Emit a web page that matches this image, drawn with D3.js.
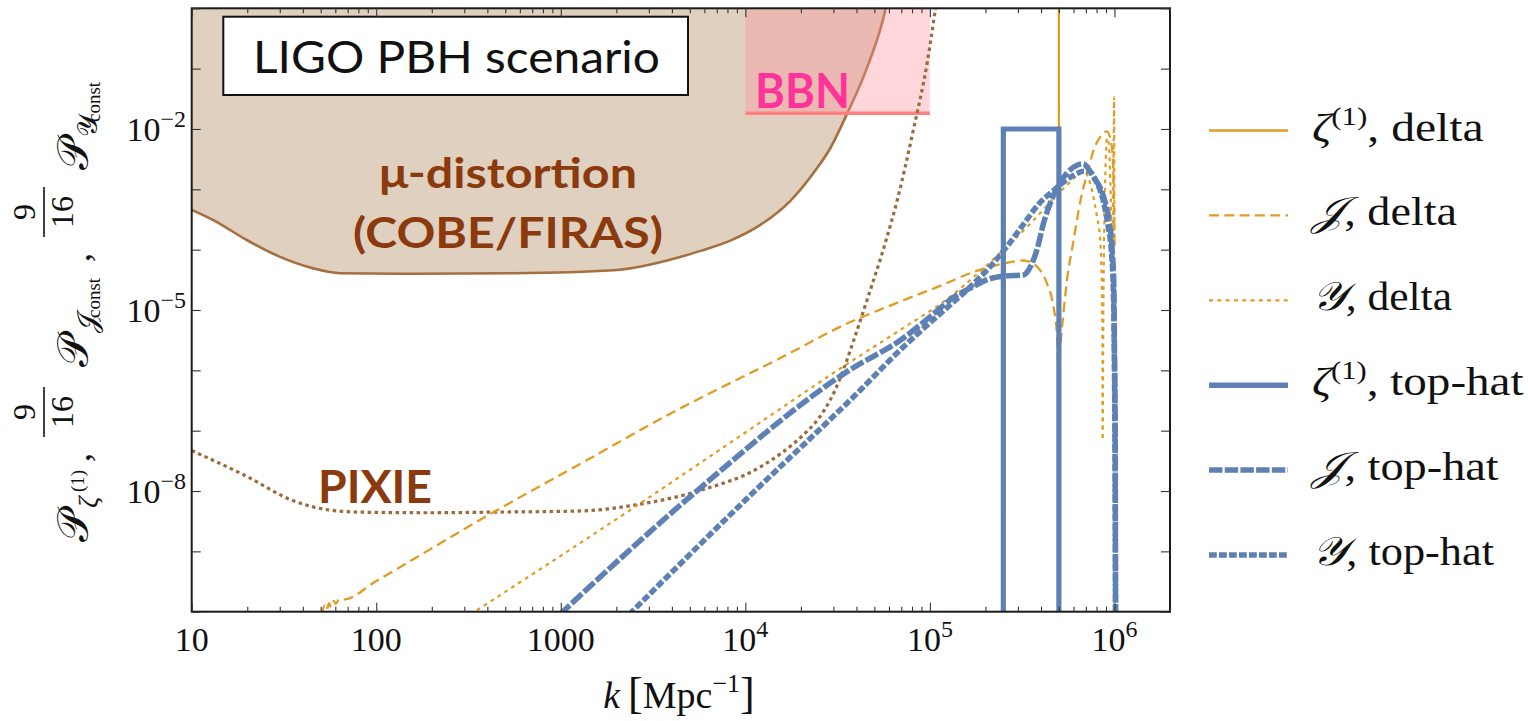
<!DOCTYPE html>
<html lang="en">
<head>
  <meta charset="UTF-8" />
  <title>LIGO PBH scenario</title>
  <script src="https://d3js.org/d3.v7.min.js"></script>
  <style>
    html, body { margin: 0; padding: 0; background: #fff; }
    svg { display: block; }
    .serif { font-family: "Liberation Serif", "DejaVu Serif", serif; fill: #111; }
    .sans { font-family: "Lato", "Open Sans", sans-serif; }
  </style>
</head>
<body>
<svg id="chart" width="1528" height="721"></svg>
<script>
  // every curve is a list of [log10 k, log10 P]
  const muDistortion = [
    [1.0, -3.34], [1.117, -3.51], [1.298, -3.84], [1.479, -4.12], [1.659, -4.31],
    [1.804, -4.39], [2.2, -4.40], [2.743, -4.39], [3.285, -4.34], [3.647, -4.12],
    [3.756, -4.02], [3.919, -3.85], [4.081, -3.59], [4.244, -3.19], [4.369, -2.73],
    [4.461, -2.315], [4.553, -1.735], [4.661, -0.97], [4.758, -0.03], [4.78, 0.3]
  ];
  const pixie = [
    [1.0, -7.33], [1.30, -7.76], [1.541, -8.15], [1.735, -8.31], [1.905, -8.35],
    [2.3, -8.36], [2.63, -8.35], [3.114, -8.33], [3.405, -8.23], [3.767, -7.98],
    [4.082, -7.60], [4.324, -7.04], [4.378, -6.87], [4.432, -6.64], [4.486, -6.33],
    [4.541, -5.91], [4.595, -5.43], [4.660, -4.83], [4.758, -3.89], [4.823, -3.18],
    [4.910, -2.02], [4.986, -0.89], [5.029, -0.03], [5.05, 0.4]
  ];
  const bbnK = [1e4, 1e5];
  const bbnLimit = 0.0182;

  const kStar = 5e5;
  const topHatK = [2.5e5, 5e5];
  const topHatAmp = 1e-2;

  const jDelta = [
    [1.705, -10.05], [1.72, -9.9], [1.73, -9.97], [1.745, -9.86], [1.755, -9.92],
    [1.77, -9.82], [1.78, -9.87], [1.80, -9.79], [1.822, -9.80], [2.0, -9.49],
    [2.63, -8.36], [3.10, -7.56], [3.598, -6.71], [4.2, -5.78], [4.569, -5.20],
    [4.75, -4.97], [4.93, -4.75], [5.056, -4.60], [5.236, -4.37], [5.399, -4.23],
    [5.507, -4.18], [5.58, -4.28], [5.634, -4.56], [5.67, -4.95], [5.688, -5.39],
    [5.695, -5.88], [5.716, -5.28], [5.743, -4.5], [5.779, -3.84], [5.815, -3.2],
    [5.851, -2.75], [5.887, -2.35], [5.923, -2.13], [5.959, -2.04], [5.986, -2.29],
    [5.995, -2.85], [5.999, -3.6], [6.0, -4.0]
  ];
  const yDelta = [
    [2.508, -10.05], [3.403, -8.26], [4.0, -7.03], [4.569, -5.86], [4.84, -5.33],
    [5.11, -4.78], [5.25, -4.42], [5.40, -4.0], [5.55, -3.55], [5.68, -3.12],
    [5.76, -2.88], [5.832, -2.70], [5.878, -3.01], [5.905, -3.45], [5.923, -3.84],
    [5.932, -4.67], [5.935, -5.5], [5.936, -7.15], [5.940, -5.0], [5.945, -3.6],
    [5.952, -2.6], [5.960, -2.15], [5.968, -2.2], [5.978, -2.9], [5.988, -3.9],
    [5.993, -3.0], [5.996, -2.2], [5.998, -1.47], [6.0, -4.0]
  ];
  const jTopHat = [
    [2.993, -10.05], [3.744, -7.98], [4.568, -5.99], [4.84, -5.50], [5.056, -4.97],
    [5.11, -4.83], [5.236, -4.61], [5.327, -4.48], [5.399, -4.44], [5.507, -4.42],
    [5.534, -4.34], [5.58, -4.0], [5.616, -3.56], [5.652, -3.23], [5.688, -2.98],
    [5.743, -2.73], [5.797, -2.60], [5.83, -2.58], [5.887, -2.80], [5.941, -3.12],
    [5.970, -3.51], [5.989, -4.06], [5.997, -4.61], [6.0, -5.6], [6.004, -7.0],
    [6.006, -10.1]
  ];
  const yTopHat = [
    [3.369, -10.05], [4.0, -8.15], [4.622, -6.33], [4.84, -5.66], [5.056, -5.06],
    [5.2, -4.67], [5.327, -4.28], [5.417, -3.95], [5.507, -3.58], [5.597, -3.22],
    [5.67, -3.02], [5.724, -2.88], [5.778, -2.77], [5.832, -2.70], [5.86, -2.70],
    [5.90, -2.86], [5.94, -3.2], [5.965, -3.6], [5.985, -4.1], [5.995, -4.8],
    [6.0, -6.0], [6.004, -8.0], [6.006, -10.1]
  ];

  const xMajorTicks = [10, 100, 1000, 1e4, 1e5, 1e6];
  const xTickText = ["10", "100", "1000", "10|4", "10|5", "10|6"];
  const yTickValues = [1, 1e-1, 1e-2, 1e-3, 1e-4, 1e-5, 1e-6, 1e-7, 1e-8, 1e-9, 1e-10];
  const yLabelValues = [1e-2, 1e-5, 1e-8];
  const yLabelText = ["10|−2", "10|−5", "10|−8"];

  const legendSymbols = ["ζ", "𝒥", "𝒴", "ζ", "𝒥", "𝒴"];
  const legendSup = ["(1)", "", "", "(1)", "", ""];
  const legendProfile = ["delta", "delta", "delta", "top-hat", "top-hat", "top-hat"];

  const orange = "#e19c24", blue = "#5e81b5";

  const svg = d3.select("#chart");
  const plot = { left: 191.7, right: 1170, top: 8.3, bottom: 611.7 };

  const x = d3.scaleLog().domain([10, 2e6]).range([plot.left, plot.right]);
  const y = d3.scaleLog().domain([1e-10, 1]).range([plot.bottom, plot.top]);

  svg.append("defs").append("clipPath").attr("id", "plotClip")
    .append("rect")
    .attr("x", plot.left).attr("y", plot.top)
    .attr("width", plot.right - plot.left).attr("height", plot.bottom - plot.top);

  const g = svg.append("g").attr("clip-path", "url(#plotClip)");

  const px = d => x(10 ** d[0]);
  const py = d => y(10 ** d[1]);
  const smooth = d3.line().x(px).y(py).curve(d3.curveMonotoneX);

  // mu-distortion excluded region
  g.append("path").datum(muDistortion)
    .attr("d", d3.area().x(px).y0(y(1)).y1(py).curve(d3.curveMonotoneX))
    .attr("fill", "#dfd0bf");
  g.append("path").datum(muDistortion)
    .attr("d", smooth).attr("fill", "none")
    .attr("stroke", "#a56f3f").attr("stroke-width", 2.6);

  // BBN
  g.append("rect")
    .attr("x", x(bbnK[0])).attr("y", y(1))
    .attr("width", x(bbnK[1]) - x(bbnK[0]))
    .attr("height", y(bbnLimit) - y(1))
    .attr("fill", "#ff8f9c").attr("fill-opacity", 0.36);
  g.append("line")
    .attr("x1", x(bbnK[0])).attr("x2", x(bbnK[1]))
    .attr("y1", y(bbnLimit)).attr("y2", y(bbnLimit))
    .attr("stroke", "#ff8080").attr("stroke-width", 3.5);

  // PIXIE forecast
  g.append("path").datum(pixie)
    .attr("d", smooth).attr("fill", "none")
    .attr("stroke", "#9c6a3c").attr("stroke-width", 3.2)
    .attr("stroke-dasharray", "3.5,3.5");

  // delta peak
  g.append("line")
    .attr("x1", x(kStar)).attr("x2", x(kStar))
    .attr("y1", y(1)).attr("y2", y(1e-10))
    .attr("stroke", orange).attr("stroke-width", 2.2);
  g.append("path").datum(jDelta)
    .attr("d", smooth).attr("fill", "none")
    .attr("stroke", orange).attr("stroke-width", 2.3)
    .attr("stroke-dasharray", "10,5.5");
  g.append("path").datum(yDelta)
    .attr("d", smooth).attr("fill", "none")
    .attr("stroke", orange).attr("stroke-width", 2.2)
    .attr("stroke-dasharray", "3.8,4.4");

  // top-hat peak
  const box = [[topHatK[0], 1e-11], [topHatK[0], topHatAmp], [topHatK[1], topHatAmp], [topHatK[1], 1e-11]];
  g.append("path").datum(box)
    .attr("d", d3.line().x(d => x(d[0])).y(d => y(d[1])))
    .attr("fill", "none").attr("stroke", blue).attr("stroke-width", 5.2);
  g.append("path").datum(jTopHat)
    .attr("d", smooth).attr("fill", "none")
    .attr("stroke", blue).attr("stroke-width", 5.5)
    .attr("stroke-dasharray", "14,2.6");
  g.append("path").datum(yTopHat)
    .attr("d", smooth).attr("fill", "none")
    .attr("stroke", blue).attr("stroke-width", 5.5)
    .attr("stroke-dasharray", "7.5,2.5");

  // region labels
  function fitText(sel, width) {
    return sel.attr("textLength", width).attr("lengthAdjust", "spacingAndGlyphs");
  }
  const brown = "#8b3a0e";
  fitText(svg.append("text").attr("class", "sans").attr("x", 508).attr("y", 188.3)
    .attr("text-anchor", "middle").attr("font-size", 42).attr("font-weight", 700)
    .attr("fill", brown).text("μ-distortion"), 258);
  fitText(svg.append("text").attr("class", "sans").attr("x", 508).attr("y", 248.3)
    .attr("text-anchor", "middle").attr("font-size", 42).attr("font-weight", 700)
    .attr("fill", brown).text("(COBE/FIRAS)"), 310);
  fitText(svg.append("text").attr("class", "sans").attr("x", 318).attr("y", 503.3)
    .attr("font-size", 46).attr("font-weight", 700)
    .attr("fill", brown).text("PIXIE"), 114);
  fitText(svg.append("text").attr("class", "sans").attr("x", 755).attr("y", 108.3)
    .attr("font-size", 47).attr("font-weight", 700)
    .attr("fill", "#ff3399").text("BBN"), 95);

  svg.append("rect").attr("x", 223.3).attr("y", 16.7).attr("width", 464.7).attr("height", 78.3)
    .attr("fill", "#fff").attr("stroke", "#111").attr("stroke-width", 2);
  fitText(svg.append("text").attr("class", "sans").attr("x", 456.5).attr("y", 72.7)
    .attr("text-anchor", "middle").attr("font-size", 45).attr("fill", "#111")
    .text("LIGO PBH scenario"), 407);

  // frame and ticks
  svg.append("rect")
    .attr("x", plot.left).attr("y", plot.top)
    .attr("width", plot.right - plot.left).attr("height", plot.bottom - plot.top)
    .attr("fill", "none").attr("stroke", "#1a1a1a").attr("stroke-width", 2);

  const xMinor = x.ticks().filter(v => !xMajorTicks.includes(v));
  function tickAxis(axis, values, size, translate) {
    const a = svg.append("g").attr("transform", translate)
      .call(axis.tickValues(values).tickSize(size).tickFormat(""));
    a.select(".domain").remove();
    a.selectAll(".tick line").attr("stroke", "#333").attr("stroke-width", 1.1);
  }
  tickAxis(d3.axisBottom(x), xMajorTicks, -9, `translate(0,${plot.bottom})`);
  tickAxis(d3.axisBottom(x), xMinor, -5, `translate(0,${plot.bottom})`);
  tickAxis(d3.axisTop(x), xMajorTicks, -9, `translate(0,${plot.top})`);
  tickAxis(d3.axisTop(x), xMinor, -5, `translate(0,${plot.top})`);
  tickAxis(d3.axisLeft(y), yTickValues, -9, `translate(${plot.left},0)`);
  tickAxis(d3.axisRight(y), yTickValues, -9, `translate(${plot.right},0)`);

  // tick labels
  function powerLabel(t, str, supDy) {
    const [base, sup] = str.split("|");
    t.append("tspan").text(base);
    if (sup) t.append("tspan").attr("font-size", 24).attr("dy", supDy).text(sup);
  }
  xMajorTicks.forEach((v, i) => {
    const t = svg.append("text").attr("class", "serif")
      .attr("x", x(v)).attr("y", 651).attr("text-anchor", "middle").attr("font-size", 34);
    powerLabel(t, xTickText[i], -14);
  });
  yLabelValues.forEach((v, i) => {
    const t = svg.append("text").attr("class", "serif")
      .attr("x", 186).attr("y", y(v) + 12).attr("text-anchor", "end").attr("font-size", 34);
    powerLabel(t, yLabelText[i], -14);
  });

  // x axis title
  const xt = svg.append("text").attr("class", "serif")
    .attr("x", 679).attr("y", 708).attr("text-anchor", "middle").attr("font-size", 38);
  xt.append("tspan").attr("font-style", "italic").text("k");
  xt.append("tspan").attr("dx", 8).attr("font-size", 44).text("[");
  xt.append("tspan").text("Mpc");
  xt.append("tspan").attr("font-size", 26).attr("dy", -16).text("−1");
  xt.append("tspan").attr("font-size", 44).attr("dy", 16).text("]");

  // y axis title (rotated, built piece by piece)
  const yt = svg.append("g").attr("class", "serif").attr("transform", "rotate(-90)");
  function yPiece(str, startY, baseX, size, opts = {}) {
    const t = yt.append("text").attr("x", -startY).attr("y", baseX)
      .attr("font-size", size).attr("text-anchor", opts.anchor || "start").text(str);
    if (opts.italic) t.attr("font-style", "italic");
    return t;
  }
  yPiece("𝒫", 542, 88, 44);
  yPiece("ζ", 508, 97, 28, { italic: true });
  yPiece("(1)", 492, 84, 19);
  yPiece(",", 462, 90, 36);
  [[412, 367, 333, 318, "𝒥"], [212, 170, 137, 122, "𝒴"]].forEach(([fc, p, s, c, sym]) => {
    yPiece("9", fc, 35, 32, { anchor: "middle" });
    yt.append("line").attr("x1", -(fc + 25)).attr("x2", -(fc - 25))
      .attr("y1", 44).attr("y2", 44).attr("stroke", "#111").attr("stroke-width", 1.6);
    yPiece("16", fc, 73, 32, { anchor: "middle" });
    yPiece("𝒫", p, 88, 44);
    yPiece(sym, s, 97, 28);
    yPiece("const", c, 100, 19);
  });
  yPiece(",", 262, 90, 36);

  // legend
  const legendStyles = [
    { color: orange, width: 2.4, dash: null },
    { color: orange, width: 2.4, dash: "10,5.3" },
    { color: orange, width: 2.2, dash: "4,4.3" },
    { color: blue, width: 5.5, dash: null },
    { color: blue, width: 5.5, dash: "13.5,2.2" },
    { color: blue, width: 5.5, dash: "7.8,2.2" }
  ];
  const legendWidths = [171.6, 145, 140, 211.6, 186.7, 182];
  legendSymbols.forEach((sym, i) => {
    const ly = 130.5 + i * 84.9;
    const s = legendStyles[i];
    svg.append("line").attr("x1", 1209).attr("x2", 1288).attr("y1", ly).attr("y2", ly)
      .attr("stroke", s.color).attr("stroke-width", s.width)
      .attr("stroke-dasharray", s.dash);
    const t = svg.append("text").attr("class", "serif")
      .attr("x", 1312).attr("y", ly + 10).attr("font-size", 40);
    t.append("tspan").attr("font-style", "italic").text(sym);
    if (legendSup[i]) {
      t.append("tspan").attr("font-size", 26).attr("dy", -16).text(legendSup[i]);
      t.append("tspan").attr("dy", 16).text(", " + legendProfile[i]);
    } else {
      t.append("tspan").text(", " + legendProfile[i]);
    }
    fitText(t, legendWidths[i]);
  });
</script>
</body>
</html>
